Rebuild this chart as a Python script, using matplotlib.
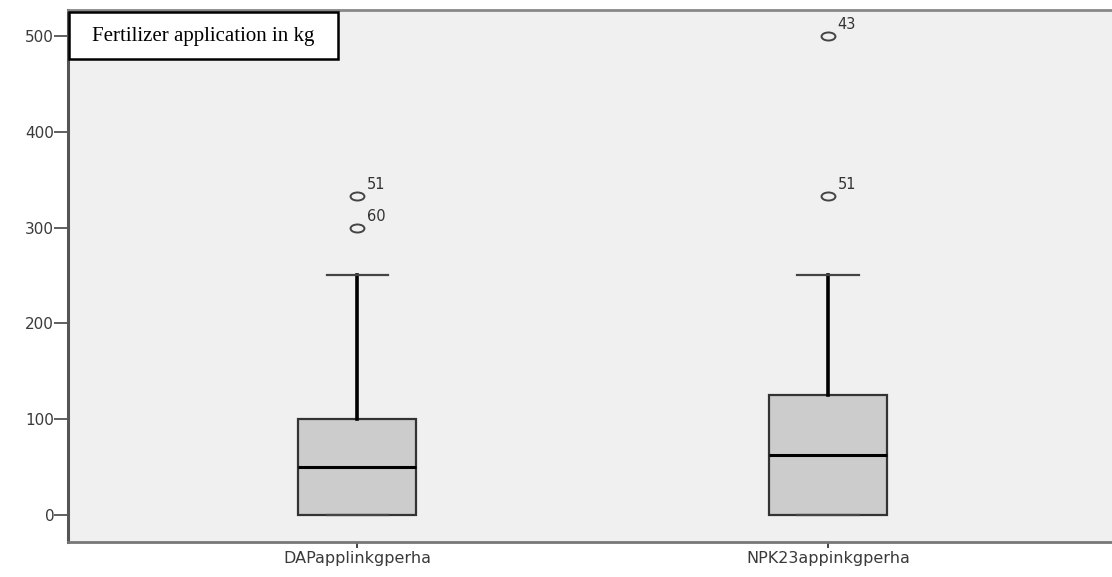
import matplotlib
matplotlib.use('Agg')
import matplotlib.pyplot as plt
from matplotlib.path import Path
from matplotlib.patches import Rectangle

# box plot summary values
labels = ['DAPapplinkgperha', 'NPK23appinkgperha']
q1 = [0, 0]
med = [50, 62.5]
q3 = [100, 125]
wlo = [0, 0]
whi = [250, 250]
outliers = [[300, 333], [333, 500]]
outlier_ids = [['60', '51'], ['51', '43']]
yticks = [0, 100, 200, 300, 400, 500]

stats = []
for i in range(len(labels)):
    stats.append(dict(label=labels[i], q1=q1[i], med=med[i], q3=q3[i],
                      whislo=wlo[i], whishi=whi[i], fliers=outliers[i]))

# flattened circle like the SPSS output
circ = Path.unit_circle()
oval = Path(circ.vertices * [1.0, 0.58], circ.codes)

fig = plt.figure(figsize=(11.12, 5.77), dpi=100)
ax = fig.add_axes([0.0612, 0.0607, 0.9388, 0.922])
ax.set_facecolor('#f0f0f0')

positions = [1, 2]
bp = ax.bxp(stats, positions=positions, widths=0.25, capwidths=0.13,
            patch_artist=True, showfliers=True,
            boxprops=dict(facecolor='#cccccc', edgecolor='#333333', linewidth=1.6),
            medianprops=dict(color='black', linewidth=2.2),
            whiskerprops=dict(color='black', linewidth=2.6),
            capprops=dict(color='#444444', linewidth=1.6),
            flierprops=dict(marker=oval, markerfacecolor='none', markeredgecolor='#444444',
                            markersize=10, markeredgewidth=1.4, linestyle='none'))

# case number labels next to outliers
for i, p in enumerate(positions):
    for v, t in zip(outliers[i], outlier_ids[i]):
        ax.annotate(t, (p, v), xytext=(7, 5), textcoords='offset points',
                    fontsize=10.5, color='#333333', family='DejaVu Sans')

ax.set_xlim(0.386, 2.603)
ax.set_ylim(-28, 527)
ax.set_yticks(yticks)
ax.set_xticks(positions)
ax.set_xticklabels(labels)
ax.tick_params(axis='y', length=10, width=1.2, color='#444444', labelsize=11,
               labelcolor='#3a3a3a', pad=0)
ax.tick_params(axis='x', length=4.5, width=1.4, color='#444444', labelsize=11.5,
               labelcolor='#3a3a3a', pad=2)

ax.spines['left'].set_color('#555555')
ax.spines['left'].set_linewidth(2.2)
ax.spines['bottom'].set_color('#777777')
ax.spines['bottom'].set_linewidth(2)
ax.spines['top'].set_color('#888888')
ax.spines['top'].set_linewidth(2)
ax.spines['right'].set_visible(False)

# title box in the upper left corner
W, H = 1112.0, 577.0
fig.patches.append(Rectangle((69 / W, 1 - 59 / H), 269 / W, 47 / H,
                             transform=fig.transFigure, facecolor='white',
                             edgecolor='black', linewidth=1.8, zorder=5))
fig.text(203.5 / W, 1 - 36 / H, 'Fertilizer application in kg', ha='center',
         va='center', fontsize=15, family='Liberation Serif', zorder=6)

fig.savefig('out.png', dpi=100)
